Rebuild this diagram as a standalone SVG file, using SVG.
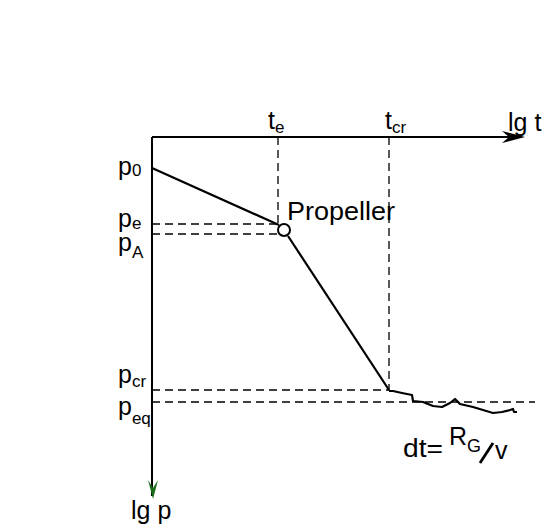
<svg xmlns="http://www.w3.org/2000/svg" width="545" height="526" viewBox="0 0 545 526">
<style>
text{font-family:"Liberation Sans",Arial,sans-serif;fill:#000;font-size:25px}
.sub{font-size:17px}
.ax{stroke:#000;stroke-width:2;fill:none}
.d{stroke:#000;stroke-width:1.3;fill:none;stroke-dasharray:8,5}
.c{stroke:#000;stroke-width:2.2;fill:none;stroke-linejoin:round}
</style>
<rect width="545" height="526" fill="#fff"/>
<g id="connectors">
<path class="ax" d="M152,137 H522"/>
<path d="M525,137 L502,131 L509,137 L502,143 Z" fill="#000"/>
<path class="ax" d="M152,137 V496"/>
<path d="M153,499 L148,480 L153,488 L158,480 Z" fill="#1a6b1a"/>
<path class="d" d="M278,137 V224"/>
<path class="d" d="M389,137 V390"/>
<path class="d" d="M152,224 H278"/>
<path class="d" d="M152,234 H279"/>
<path class="d" d="M152,390 H389"/>
<path class="d" d="M152,402 H535"/>
<path class="c" d="M152,168 L279,225"/>
<path class="c" d="M288,236 L389,390"/>
<path class="c" stroke-width="2" d="M389,391 L393,391 L402,393 L412,395 L413,401 L423,402 L433,406 L442,407 L450,403 L455,399 L457,401 L460,404 L473,407 L483,410 L493,413 L502,412 L510,410 L513,409 L514,412 L517,412"/>
</g>
<g id="propeller">
<circle cx="284" cy="230" r="6" fill="#fff" stroke="#000" stroke-width="2"/>
<text x="287" y="220" font-size="25" textLength="108" lengthAdjust="spacingAndGlyphs">Propeller</text>
</g>
<g id="labels">
<text x="508" y="131" font-size="27">lg t</text>
<text x="268" y="129" font-size="26">t<tspan class="sub" dy="4">e</tspan></text>
<text x="385" y="129" font-size="26">t<tspan class="sub" dy="4">cr</tspan></text>
<text x="118" y="175">p<tspan class="sub" dy="1">0</tspan></text>
<text x="118" y="227">p<tspan class="sub" dy="2">e</tspan></text>
<text x="118" y="251">p<tspan class="sub" dy="7">A</tspan></text>
<text x="118" y="383">p<tspan class="sub" dy="4">cr</tspan></text>
<text x="118" y="415">p<tspan class="sub" dy="9">eq</tspan></text>
<text x="131" y="519" font-size="26">lg p</text>
<text x="403" y="457" font-size="27" textLength="40" lengthAdjust="spacingAndGlyphs">dt=</text>
<text x="449" y="445" font-size="21">R<tspan font-size="18" dy="7">G</tspan></text>
<path d="M480,463 L493,443" stroke="#000" stroke-width="2.8" fill="none"/>
<text x="495" y="459" font-size="21">v</text>
</g>
</svg>
